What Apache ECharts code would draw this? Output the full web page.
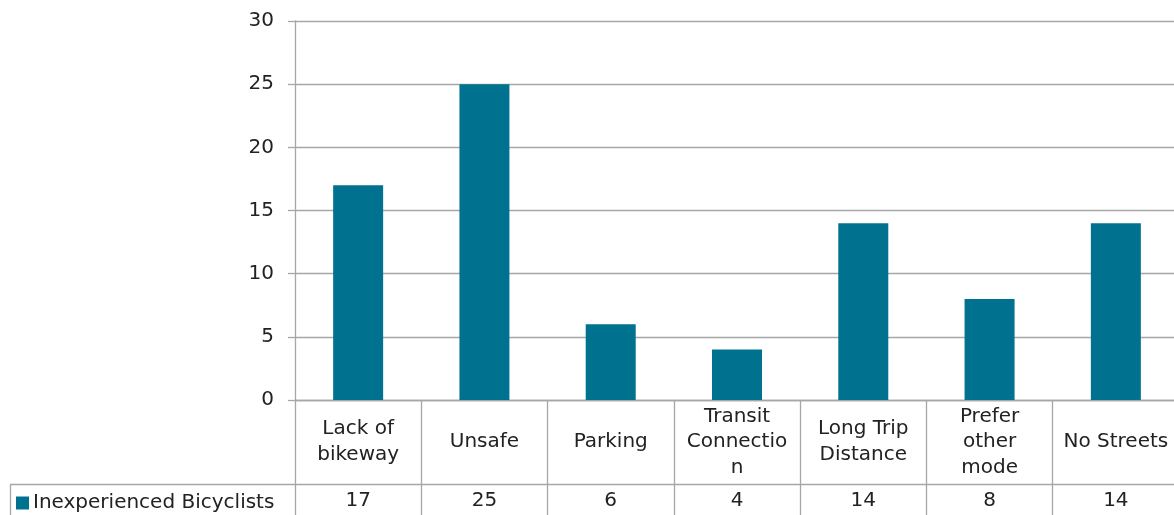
<!DOCTYPE html>
<html><head><meta charset="utf-8">
<script src="https://cdn.jsdelivr.net/npm/echarts@6/dist/echarts.min.js"></script>
<style>html,body{margin:0;padding:0;background:#fff;overflow:hidden;width:1174px;height:515px}#c{width:1190px;height:515px}</style>
</head><body><div id="c"></div>
<script>
const categories = ["Lack of\nbikeway", "Unsafe", "Parking", "Transit\nConnectio\nn", "Long Trip\nDistance", "Prefer\nother\nmode", "No Streets"];
const seriesName = "Inexperienced Bicyclists";
const values = [17, 25, 6, 4, 14, 8, 14];
const yTicks = [0, 5, 10, 15, 20, 25, 30];

const FONT = "DejaVu Sans";
const FS = 20;
const GRAY = "#a6a6a6";
const BAR = "#00718e";
const chart = echarts.init(document.getElementById('c'));
chart.setOption({
  animation: false,
  textStyle: { fontFamily: FONT },
  legend: {
    data: [seriesName], left: 11, top: 488, icon: 'rect', itemWidth: 13, itemHeight: 13, itemGap: 4,
    textStyle: { fontFamily: FONT, fontSize: FS, color: '#222', padding: [0,0,0,-1] }
  },
  grid: [
    { left: 295, top: 21, width: 884, bottom: 115 },
    { left: 295, top: 484, width: 884, height: 0 }
  ],
  xAxis: [
    { type: 'category', gridIndex: 0, data: categories,
      axisLine: { lineStyle: { color: GRAY, width: 1.3 } },
      axisTick: { show: true, length: 115, interval: 0, lineStyle: { color: GRAY, width: 1.3 } },
      axisLabel: { interval: 0, color: '#222', fontSize: FS, lineHeight: 25.5, margin: 42, verticalAlign: 'middle', fontFamily: FONT }
    },
    { type: 'category', gridIndex: 1, data: values.map(String),
      axisLine: { show: false }, axisTick: { show: false },
      axisLabel: { interval: 0, color: '#222', fontSize: FS, margin: 17, verticalAlign: 'middle', fontFamily: FONT }
    }
  ],
  yAxis: [
    { type: 'value', gridIndex: 0, min: yTicks[0], max: yTicks[yTicks.length-1], interval: 5,
      axisLine: { show: true, lineStyle: { color: GRAY, width: 1.3 } },
      axisTick: { show: true, length: 7, lineStyle: { color: GRAY, width: 1.3 } },
      splitLine: { lineStyle: { color: GRAY, width: 1.3 } },
      axisLabel: { color: '#222', fontSize: FS, margin: 21, fontFamily: FONT }
    },
    { type: 'value', gridIndex: 1, show: false }
  ],
  series: [
    { name: seriesName, type: 'bar', xAxisIndex: 0, yAxisIndex: 0, data: values, barWidth: 50,
      itemStyle: { color: BAR } }
  ],
  graphic: [
    { type: 'line', shape: { x1: 10, y1: 484.5, x2: 1190, y2: 484.5 }, style: { stroke: GRAY, lineWidth: 1.3 } },
    { type: 'line', shape: { x1: 10.5, y1: 484, x2: 10.5, y2: 515 }, style: { stroke: GRAY, lineWidth: 1.3 } }
  ]
});
</script></body></html>
